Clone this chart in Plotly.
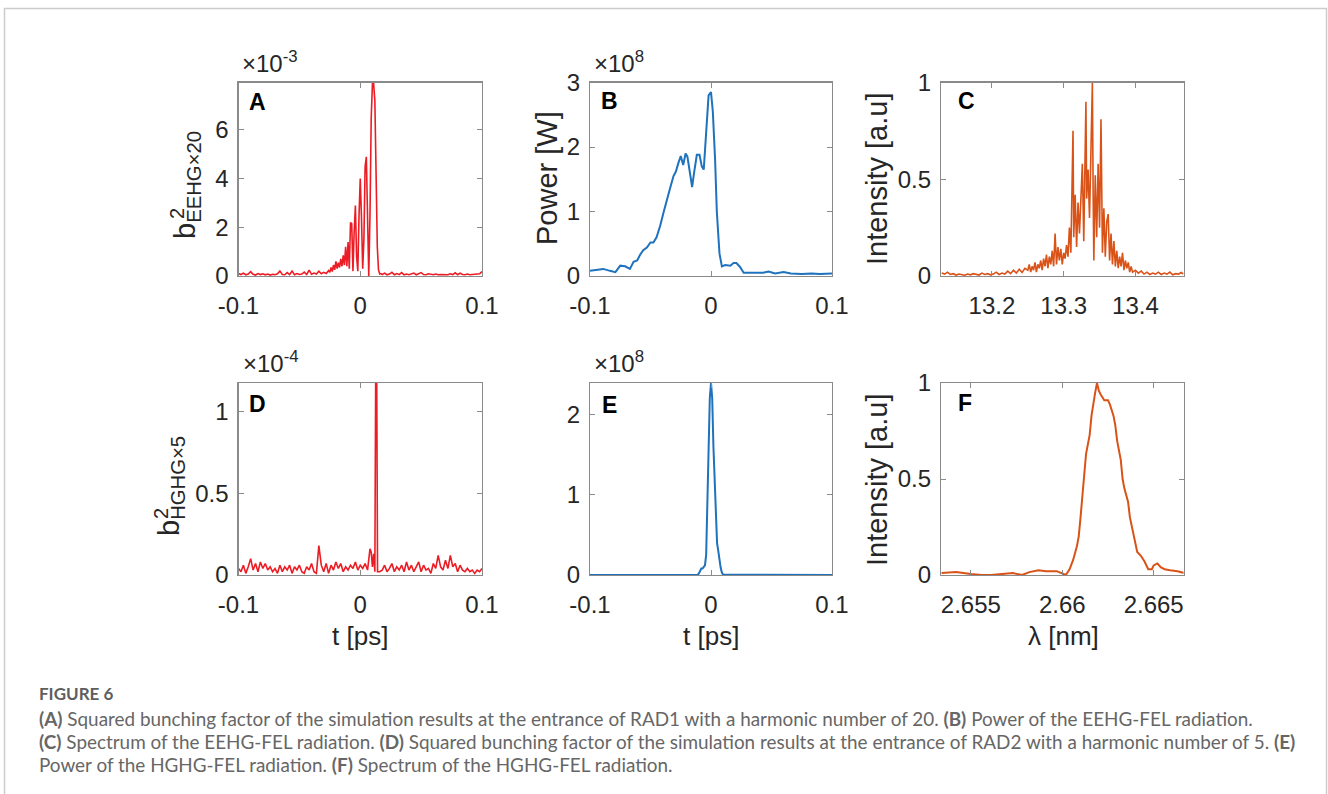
import plotly.graph_objects as go

# ---------------- data ----------------
# (A) squared bunching factor, EEHG x20 (units of 1e-3)
a_t = [-0.100, -0.098, -0.096, -0.094, -0.092, -0.090, -0.088, -0.086, -0.084, -0.082,
       -0.080, -0.078, -0.076, -0.074, -0.072, -0.070, -0.068, -0.066, -0.064, -0.062,
       -0.060, -0.058, -0.056, -0.054, -0.052, -0.050, -0.048, -0.046, -0.044, -0.042,
       -0.040, -0.038, -0.036, -0.034, -0.032, -0.030, -0.028, -0.026,
       -0.025, -0.024, -0.023, -0.022, -0.021, -0.020, -0.019, -0.018, -0.017, -0.016,
       -0.015, -0.014, -0.013, -0.012, -0.011, -0.010, -0.009, -0.008, -0.007, -0.006,
       -0.005, -0.004, -0.003, -0.002, -0.001, 0.000, 0.001, 0.002, 0.003, 0.004,
       0.005, 0.006, 0.007, 0.008, 0.009, 0.010, 0.011, 0.012, 0.013, 0.014,
       0.015, 0.016, 0.017, 0.018,
       0.020, 0.022, 0.024, 0.026, 0.028, 0.030, 0.032, 0.034, 0.036, 0.038,
       0.040, 0.042, 0.044, 0.046, 0.048, 0.050, 0.052, 0.054, 0.056, 0.058,
       0.060, 0.062, 0.064, 0.066, 0.068, 0.070, 0.072, 0.074, 0.076, 0.078,
       0.080, 0.082, 0.084, 0.086, 0.088, 0.090, 0.092, 0.094, 0.096, 0.098, 0.100]
a_b2 = [0.10, 0.06, 0.12, 0.05, 0.08, 0.18, 0.07, 0.04, 0.10, 0.06,
        0.09, 0.05, 0.08, 0.04, 0.07, 0.05, 0.09, 0.20, 0.06, 0.05,
        0.14, 0.06, 0.20, 0.05, 0.10, 0.06, 0.08, 0.16, 0.06, 0.24,
        0.07, 0.12, 0.08, 0.20, 0.09, 0.15, 0.10, 0.22,
        0.15, 0.35, 0.18, 0.45, 0.25, 0.60, 0.30, 0.55, 0.35, 0.70,
        0.40, 0.85, 0.45, 1.20, 0.40, 1.40, 0.30, 2.20, 2.15, 0.20,
        1.80, 2.90, 0.80, 0.20, 2.50, 4.00, 2.40, 0.30, 1.50, 4.50,
        4.90, 1.50, 0.00, 2.50, 6.50, 7.90, 7.90, 7.20, 4.50, 1.20,
        0.25, 0.08, 0.10, 0.06,
        0.12, 0.05, 0.08, 0.15, 0.05, 0.10, 0.06, 0.14, 0.05, 0.08,
        0.05, 0.07, 0.12, 0.05, 0.08, 0.14, 0.06, 0.05, 0.09, 0.06,
        0.05, 0.08, 0.05, 0.06, 0.05, 0.07, 0.05, 0.09, 0.06, 0.13,
        0.05, 0.12, 0.06, 0.05, 0.08, 0.05, 0.06, 0.05, 0.07, 0.09, 0.18]

# (B) EEHG-FEL power (units of 1e8 W)
b_t = [-0.1000, -0.0945, -0.0890, -0.0835, -0.0790, -0.0750, -0.0710, -0.0670, -0.0640, -0.0610,
       -0.0586, -0.0560, -0.0530, -0.0500, -0.0476, -0.0450, -0.0420, -0.0390, -0.0366, -0.0340,
       -0.0310, -0.0290, -0.0270, -0.0250, -0.0230, -0.0210, -0.0195, -0.0170, -0.0156, -0.0140,
       -0.0117, -0.0095, -0.0076, -0.0060, -0.0048, -0.0034, -0.0020, 0.0000, 0.0015, 0.0034,
       0.0048, 0.0070, 0.0090, 0.0117, 0.0160, 0.0186, 0.0210, 0.0240, 0.0270, 0.0350,
       0.0430, 0.0476, 0.0530, 0.0600, 0.0660, 0.0750, 0.0830, 0.0900, 0.1000]
b_power = [0.08, 0.09, 0.11, 0.08, 0.06, 0.16, 0.15, 0.11, 0.22, 0.24,
           0.33, 0.40, 0.44, 0.52, 0.52, 0.60, 0.78, 1.00, 1.15, 1.35,
           1.55, 1.62, 1.75, 1.86, 1.72, 1.90, 1.85, 1.55, 1.38, 1.60,
           1.88, 1.88, 1.70, 1.65, 2.00, 2.50, 2.80, 2.85, 2.55, 1.80,
           1.00, 0.35, 0.15, 0.17, 0.16, 0.20, 0.20, 0.14, 0.05, 0.05,
           0.05, 0.07, 0.04, 0.06, 0.04, 0.03, 0.04, 0.03, 0.04]

# (C) EEHG-FEL spectrum (a.u.)
c_lam = [13.130, 13.134, 13.138, 13.142, 13.146, 13.150, 13.154, 13.158, 13.162, 13.166,
         13.170, 13.174, 13.178, 13.182, 13.186, 13.190, 13.194, 13.198, 13.202, 13.206,
         13.210, 13.214, 13.218, 13.222, 13.226, 13.230, 13.234, 13.238, 13.242, 13.246,
         13.250, 13.252, 13.254, 13.256, 13.258, 13.260, 13.262, 13.264, 13.266, 13.268,
         13.270, 13.272, 13.274, 13.276, 13.278, 13.280, 13.282, 13.284, 13.286, 13.288,
         13.290, 13.292, 13.294, 13.296, 13.298, 13.300, 13.302, 13.304, 13.306, 13.308,
         13.310, 13.312, 13.313, 13.314, 13.316, 13.318, 13.320, 13.322, 13.324, 13.326,
         13.328, 13.330, 13.331, 13.332, 13.334, 13.336, 13.338, 13.340, 13.341, 13.342,
         13.344, 13.346, 13.348, 13.350, 13.352, 13.353, 13.354, 13.356, 13.358, 13.360,
         13.362, 13.364, 13.366, 13.368, 13.370, 13.372, 13.374, 13.376, 13.378, 13.380,
         13.382, 13.384, 13.386, 13.388, 13.390, 13.392, 13.394, 13.396,
         13.400, 13.404, 13.408, 13.412, 13.416, 13.420, 13.424, 13.428, 13.432, 13.436,
         13.440, 13.444, 13.448, 13.452, 13.456, 13.460, 13.464, 13.467]
c_int = [0.015, 0.010, 0.020, 0.008, 0.012, 0.005, 0.010, 0.006, 0.004, 0.010,
         0.006, 0.012, 0.008, 0.005, 0.015, 0.008, 0.012, 0.006, 0.010, 0.020,
         0.008, 0.015, 0.010, 0.025, 0.012, 0.030, 0.015, 0.035, 0.018, 0.040,
         0.03, 0.06, 0.02, 0.05, 0.03, 0.07, 0.02, 0.06, 0.04, 0.08,
         0.03, 0.09, 0.05, 0.11, 0.04, 0.10, 0.06, 0.13, 0.05, 0.22,
         0.06, 0.15, 0.08, 0.14, 0.06, 0.12, 0.09, 0.16, 0.10, 0.25,
         0.12, 0.48, 0.75, 0.20, 0.42, 0.15, 0.38, 0.22, 0.45, 0.58,
         0.18, 0.62, 0.90, 0.40, 0.55, 0.30, 0.62, 1.00, 0.45, 0.08,
         0.52, 0.20, 0.58, 0.25, 0.81, 0.30, 0.12, 0.35, 0.10, 0.28,
         0.32, 0.08, 0.22, 0.06, 0.18, 0.05, 0.13, 0.04, 0.10, 0.05,
         0.12, 0.03, 0.08, 0.04, 0.07, 0.02, 0.05, 0.02,
         0.030, 0.015, 0.025, 0.010, 0.020, 0.008, 0.015, 0.010, 0.020, 0.008,
         0.015, 0.010, 0.020, 0.006, 0.012, 0.010, 0.018, 0.010]

# (D) squared bunching factor, HGHG x5 (units of 1e-4)
d_t = [-0.100, -0.098, -0.096, -0.094, -0.092, -0.090, -0.088, -0.086, -0.084, -0.082,
       -0.080, -0.078, -0.076, -0.074, -0.072, -0.070, -0.068, -0.066, -0.064, -0.062,
       -0.060, -0.058, -0.056, -0.054, -0.052, -0.050, -0.048, -0.046, -0.044, -0.042,
       -0.040, -0.038, -0.036, -0.034, -0.032, -0.030, -0.028, -0.026, -0.024, -0.022,
       -0.020, -0.018, -0.016, -0.014, -0.012, -0.010, -0.008, -0.006, -0.004, -0.002,
       0.000, 0.002, 0.004, 0.006, 0.008, 0.009, 0.010, 0.011, 0.012, 0.0127,
       0.0135, 0.0142, 0.016,
       0.018, 0.020, 0.022, 0.024, 0.026, 0.028, 0.030, 0.032, 0.034, 0.036,
       0.038, 0.040, 0.042, 0.044, 0.046, 0.048, 0.050, 0.052, 0.054, 0.056,
       0.058, 0.060, 0.062, 0.064, 0.066, 0.068, 0.070, 0.072, 0.074, 0.076,
       0.078, 0.080, 0.082, 0.084, 0.086, 0.088, 0.090, 0.092, 0.094, 0.096,
       0.098, 0.100]
d_b2 = [0.04, 0.02, 0.06, 0.01, 0.05, 0.10, 0.03, 0.07, 0.02, 0.08,
        0.04, 0.07, 0.03, 0.05, 0.02, 0.04, 0.01, 0.06, 0.02, 0.05,
        0.03, 0.06, 0.01, 0.05, 0.03, 0.06, 0.02, 0.01, 0.05, 0.03,
        0.07, 0.02, 0.01, 0.18, 0.06, 0.02, 0.07, 0.01, 0.06, 0.03,
        0.08, 0.04, 0.07, 0.02, 0.05, 0.03, 0.06, 0.04, 0.08, 0.03,
        0.06, 0.04, 0.07, 0.03, 0.16, 0.14, 0.05, 0.13, 0.02, 1.25,
        1.25, 0.02, 0.02,
        0.03, 0.06, 0.02, 0.04, 0.07, 0.02, 0.05, 0.03, 0.06, 0.02,
        0.08, 0.03, 0.06, 0.02, 0.05, 0.08, 0.02, 0.06, 0.03, 0.04,
        0.01, 0.07, 0.04, 0.12, 0.05, 0.03, 0.09, 0.04, 0.12, 0.05,
        0.07, 0.02, 0.06, 0.03, 0.02, 0.04, 0.02, 0.03, 0.01, 0.03,
        0.02, 0.04]

# (E) HGHG-FEL power (units of 1e8 W)
e_t = [-0.100, -0.080, -0.060, -0.040, -0.030, -0.025, -0.020, -0.015, -0.011, -0.010,
       -0.009, -0.008, -0.007, -0.006, -0.005, -0.004, -0.003, -0.002, -0.001, 0.000,
       0.001, 0.002, 0.003, 0.004, 0.005, 0.006, 0.007, 0.008, 0.009, 0.010,
       0.012, 0.020, 0.030, 0.040, 0.060, 0.080, 0.100]
e_power = [0.000, 0.000, 0.000, 0.002, 0.004, 0.006, 0.003, 0.002, 0.002, 0.020,
           0.050, 0.080, 0.080, 0.100, 0.120, 0.250, 0.800, 1.600, 2.200, 2.390,
           2.200, 1.600, 1.100, 0.650, 0.400, 0.300, 0.180, 0.090, 0.030, 0.005,
           0.003, 0.002, 0.004, 0.002, 0.001, 0.001, 0.000]

# (F) HGHG-FEL spectrum (a.u.)
f_lam = [2.6534, 2.6542, 2.6550, 2.6556, 2.6561, 2.6567, 2.6573, 2.6578, 2.6582, 2.6587,
         2.6591, 2.6597, 2.6600, 2.6602, 2.6604, 2.6606, 2.6608, 2.6609, 2.6610, 2.6612,
         2.6613, 2.6615, 2.6616, 2.6618, 2.6619, 2.6620, 2.6621, 2.6623, 2.6625, 2.6626,
         2.6628, 2.6629, 2.6630, 2.6632, 2.6633, 2.6634, 2.6636, 2.6637, 2.6639, 2.6641,
         2.6643, 2.6645, 2.6647, 2.6649, 2.6650, 2.6652, 2.6654, 2.6656, 2.6659, 2.6663,
         2.6667]
f_int = [0.010, 0.015, 0.005, 0.000, 0.000, 0.005, 0.010, 0.000, 0.015, 0.025,
         0.020, 0.020, 0.010, 0.000, 0.030, 0.080, 0.150, 0.200, 0.300, 0.500,
         0.630, 0.730, 0.830, 0.950, 1.000, 0.960, 0.940, 0.910, 0.910, 0.890,
         0.830, 0.780, 0.700, 0.600, 0.500, 0.450, 0.380, 0.300, 0.200, 0.120,
         0.100, 0.070, 0.030, 0.030, 0.050, 0.060, 0.040, 0.030, 0.025, 0.020,
         0.010]

# tick labels
t_ticks = [-0.1, 0, 0.1]
t_ticktext = ["-0.1", "0", "0.1"]
a_yticks = [0, 2, 4, 6]
b_yticks = [0, 1, 2, 3]
c_xticks = [13.2, 13.3, 13.4]
c_xticktext = ["13.2", "13.3", "13.4"]
unit_yticks = [0, 0.5, 1]
unit_yticktext = ["0", "0.5", "1"]
e_yticks = [0, 1, 2]
f_xticks = [2.655, 2.66, 2.665]
f_xticktext = ["2.655", "2.66", "2.665"]

caption_title = "FIGURE 6"
caption_lines = [
    "<b>(A)</b> Squared bunching factor of the simulation results at the entrance of RAD1 with a harmonic number of 20. <b>(B)</b> Power of the EEHG-FEL radiation.",
    "<b>(C)</b> Spectrum of the EEHG-FEL radiation. <b>(D)</b> Squared bunching factor of the simulation results at the entrance of RAD2 with a harmonic number of 5. <b>(E)</b>",
    "Power of the HGHG-FEL radiation. <b>(F)</b> Spectrum of the HGHG-FEL radiation.",
]

# ---------------- layout helpers ----------------
W, H = 1328, 794
def px(x):
    return x / W
def py(y):
    return 1 - y / H

RED = "#ec1c24"
BLUE = "#1f72bd"
ORANGE = "#d95319"
AXC = "#8a8a8a"
TXT = "#262626"
FONT = "Liberation Sans, Arial, sans-serif"

cols = [(238.5, 482.0), (590.0, 832.0), (941.0, 1183.5)]
rows = [(82.5, 276.0), (383.0, 575.0)]

fig = go.Figure()

series = [
    (a_t, a_b2, RED, 1.6),
    (b_t, b_power, BLUE, 2.0),
    (c_lam, c_int, ORANGE, 1.6),
    (d_t, d_b2, RED, 1.6),
    (e_t, e_power, BLUE, 2.0),
    (f_lam, f_int, ORANGE, 2.0),
]
for i, (xs, ys, col, lw) in enumerate(series):
    sfx = "" if i == 0 else str(i + 1)
    fig.add_trace(go.Scatter(x=xs, y=ys, mode="lines", line=dict(color=col, width=lw),
                             xaxis="x" + sfx, yaxis="y" + sfx, showlegend=False,
                             hoverinfo="skip", cliponaxis=True))

xranges = [[-0.1, 0.1], [-0.1, 0.1], [13.129, 13.467], [-0.1, 0.1], [-0.1, 0.1], [2.65337, 2.66663]]
yranges = [[0, 7.95], [0, 3], [0, 1], [0, 1.173], [0, 2.39], [0, 1]]
xtv = [(t_ticks, t_ticktext), (t_ticks, t_ticktext), (c_xticks, c_xticktext),
       (t_ticks, t_ticktext), (t_ticks, t_ticktext), (f_xticks, f_xticktext)]
ytv = [(a_yticks, [str(v) for v in a_yticks]), (b_yticks, [str(v) for v in b_yticks]),
       (unit_yticks, unit_yticktext), (unit_yticks, unit_yticktext),
       (e_yticks, [str(v) for v in e_yticks]), (unit_yticks, unit_yticktext)]

axis_common = dict(showline=True, linecolor=AXC, linewidth=1.2, mirror="ticks",
                   ticks="inside", ticklen=5, tickcolor=AXC, tickwidth=1,
                   showgrid=False, zeroline=False, fixedrange=True, automargin=False,
                   tickfont=dict(family=FONT, size=24, color=TXT))

layout = {}
for i in range(6):
    r, c = divmod(i, 3)
    x0, x1 = cols[c]
    y0, y1 = rows[r]
    sfx = "" if i == 0 else str(i + 1)
    layout["xaxis" + sfx] = dict(axis_common, domain=[px(x0), px(x1)], range=xranges[i],
                                 anchor="y" + sfx, tickmode="array",
                                 tickvals=xtv[i][0], ticktext=xtv[i][1],
                                 ticklabelstandoff=8)
    layout["yaxis" + sfx] = dict(axis_common, domain=[py(y1), py(y0)], range=yranges[i],
                                 anchor="x" + sfx, tickmode="array",
                                 tickvals=ytv[i][0], ticktext=ytv[i][1],
                                 ticklabelstandoff=4)

ann = []
def add_text(x, y, text, size, angle=0, xanchor="center", yanchor="middle", color=TXT,
             family=FONT):
    ann.append(dict(x=px(x), y=py(y), xref="paper", yref="paper", text=text,
                    showarrow=False, textangle=angle, xanchor=xanchor, yanchor=yanchor,
                    font=dict(family=family, size=size, color=color)))

# panel letters
for (lx, ly, lt) in [(257, 102, "A"), (609, 101, "B"), (966, 101, "C"),
                     (257, 404, "D"), (609, 405, "E"), (965, 403, "F")]:
    add_text(lx, ly, "<b>" + lt + "</b>", 23, color="#000000")

# exponent labels
add_text(240, 62, "×10<sup>-3</sup>", 24, xanchor="left")
add_text(592, 62, "×10<sup>8</sup>", 24, xanchor="left")
add_text(241, 362, "×10<sup>-4</sup>", 24, xanchor="left")
add_text(592, 362, "×10<sup>8</sup>", 24, xanchor="left")

# y labels
add_text(187, 185, "b<sub>EEHG×20</sub>", 29, angle=-90)
add_text(177, 214, "2", 20, angle=-90)
add_text(171, 486, "b<sub>HGHG×5</sub>", 29, angle=-90)
add_text(161, 514, "2", 20, angle=-90)
add_text(547, 178, "Power [W]", 29, angle=-90)
add_text(877, 179, "Intensity [a.u]", 29, angle=-90)
add_text(877, 480, "Intensity [a.u]", 29, angle=-90)

# x labels
add_text(360, 636, "t [ps]", 26)
add_text(711, 636, "t [ps]", 26)
add_text(1063, 636, "λ [nm]", 26)

# caption
CAPF = "Lato, Open Sans, sans-serif"
add_text(37, 693, "<b>" + caption_title + "</b>", 17, xanchor="left", color="#5e5e5e", family=CAPF)
for k, line in enumerate(caption_lines):
    add_text(37, [718, 741, 764][k], line, 18.9, xanchor="left", color="#666666", family=CAPF)

fig.update_layout(
    width=W, height=H, margin=dict(l=0, r=0, t=0, b=0, autoexpand=False),
    paper_bgcolor="white", plot_bgcolor="white",
    annotations=ann,
    shapes=[dict(type="rect", xref="paper", yref="paper", x0=px(4.5), x1=px(1326.5),
                 y0=py(820), y1=py(8.5), line=dict(color="#cccccc", width=1.5),
                 fillcolor="rgba(0,0,0,0)", layer="below")],
    **layout,
)

fig.write_html(
    "out.html",
    config={"displayModeBar": False, "staticPlot": True},
    post_script="document.body.style.margin='0';document.body.style.overflow='hidden';",
)
